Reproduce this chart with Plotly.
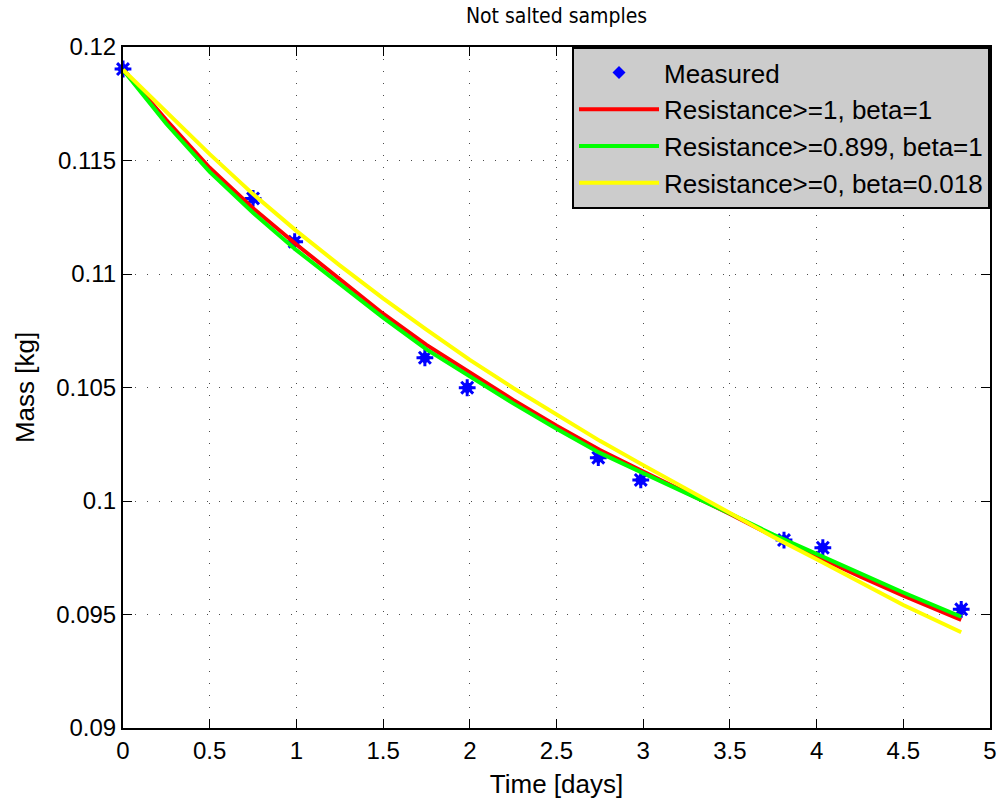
import plotly.graph_objects as go

# Measured data
t_meas = [0.0, 0.75, 0.99, 1.741, 1.985, 2.741, 2.986, 3.812, 4.036, 4.834]
m_meas = [0.11903, 0.11333, 0.11142, 0.10631, 0.10499, 0.10191, 0.10093, 0.09828, 0.09794, 0.09523]

# Model curves
t_fit = [0.0, 0.25, 0.5, 0.75, 1.0, 1.25, 1.5, 1.75, 2.0, 2.25, 2.5, 2.75,
         3.0, 3.25, 3.5, 3.75, 4.0, 4.25, 4.5, 4.834]
m_red = [0.1190, 0.11678, 0.11468, 0.11290, 0.11130, 0.10978, 0.10825, 0.10688,
         0.10565, 0.10445, 0.10332, 0.10225, 0.10130, 0.10038, 0.09943, 0.09845,
         0.09755, 0.09668, 0.09583, 0.09476]
m_green = [0.1190, 0.11662, 0.11450, 0.11270, 0.11105, 0.10955, 0.10808, 0.10668,
           0.10548, 0.10430, 0.10318, 0.10212, 0.10123, 0.10035, 0.09945, 0.09852,
           0.09768, 0.09682, 0.09597, 0.09490]
m_yellow = [0.1190, 0.11715, 0.11528, 0.11352, 0.11190, 0.11038, 0.10893, 0.10755,
            0.10622, 0.10498, 0.10380, 0.10265, 0.10158, 0.10052, 0.09946, 0.09842,
            0.09743, 0.09642, 0.09542, 0.09422]

names = ["Measured", "Resistance>=1, beta=1", "Resistance>=0.899, beta=1",
         "Resistance>=0, beta=0.018"]

x_ticks = [0, 0.5, 1, 1.5, 2, 2.5, 3, 3.5, 4, 4.5, 5]
x_tick_labels = ["0", "0.5", "1", "1.5", "2", "2.5", "3", "3.5", "4", "4.5", "5"]
y_ticks = [0.09, 0.095, 0.1, 0.105, 0.11, 0.115, 0.12]
y_tick_labels = ["0.09", "0.095", "0.1", "0.105", "0.11", "0.115", "0.12"]

FONT = "Liberation Sans, Arial, Helvetica, sans-serif"
NARROW = "Liberation Sans Narrow, Arial Narrow, DejaVu Sans Condensed, Liberation Sans, sans-serif"

fig = go.Figure()
fig.add_trace(go.Scatter(
    x=t_meas, y=m_meas, mode="markers", name=names[0], cliponaxis=False,
    marker=dict(symbol="diamond", size=10, color="#0000ff",
                line=dict(color="#0000ff", width=0)),
))
fig.add_trace(go.Scatter(
    x=t_meas, y=m_meas, mode="markers", name=names[0], cliponaxis=False,
    showlegend=False, hoverinfo="skip",
    marker=dict(symbol="asterisk-open", size=14, color="#0000ff",
                line=dict(color="#0000ff", width=3)),
))
fig.add_trace(go.Scatter(x=t_fit, y=m_red, mode="lines", name=names[1],
                         line=dict(color="#ff0000", width=4)))
fig.add_trace(go.Scatter(x=t_fit, y=m_green, mode="lines", name=names[2],
                         line=dict(color="#00ff00", width=4)))
fig.add_trace(go.Scatter(x=t_fit, y=m_yellow, mode="lines", name=names[3],
                         line=dict(color="#ffff00", width=4)))

axis_common = dict(
    showline=True, linecolor="black", linewidth=2, mirror="ticks",
    ticks="inside", ticklen=9, tickwidth=1, tickcolor="black",
    showgrid=True, gridcolor="rgba(0,0,0,0.7)", gridwidth=1, griddash="1px,11px",
    zeroline=False, tickfont=dict(family=FONT, size=24, color="black"),
)

fig.update_xaxes(range=[0, 5], tickvals=x_ticks, ticktext=x_tick_labels,
                 title=dict(text="Time [days]", font=dict(family=FONT, size=26, color="black"),
                            standoff=12),
                 **axis_common)
fig.update_yaxes(range=[0.09, 0.12], tickvals=y_ticks, ticktext=y_tick_labels,
                 title=dict(text="Mass [kg]", font=dict(family=FONT, size=26, color="black"),
                            standoff=14),
                 **axis_common)

fig.update_layout(
    width=1001, height=802,
    margin=dict(l=123, r=11, t=47, b=74, autoexpand=False),
    paper_bgcolor="white", plot_bgcolor="white",
    title=dict(text="Not salted samples", x=0.556, xanchor="center", y=0.99, yanchor="top",
               font=dict(family=NARROW, size=21, color="black")),
    legend=dict(x=1, y=1, xanchor="right", yanchor="top", bgcolor="#cccccc",
                bordercolor="black", borderwidth=2, itemwidth=80,
                font=dict(family=FONT, size=26, color="black"), tracegroupgap=0),
    showlegend=True,
)

fig.write_html("out.html")
